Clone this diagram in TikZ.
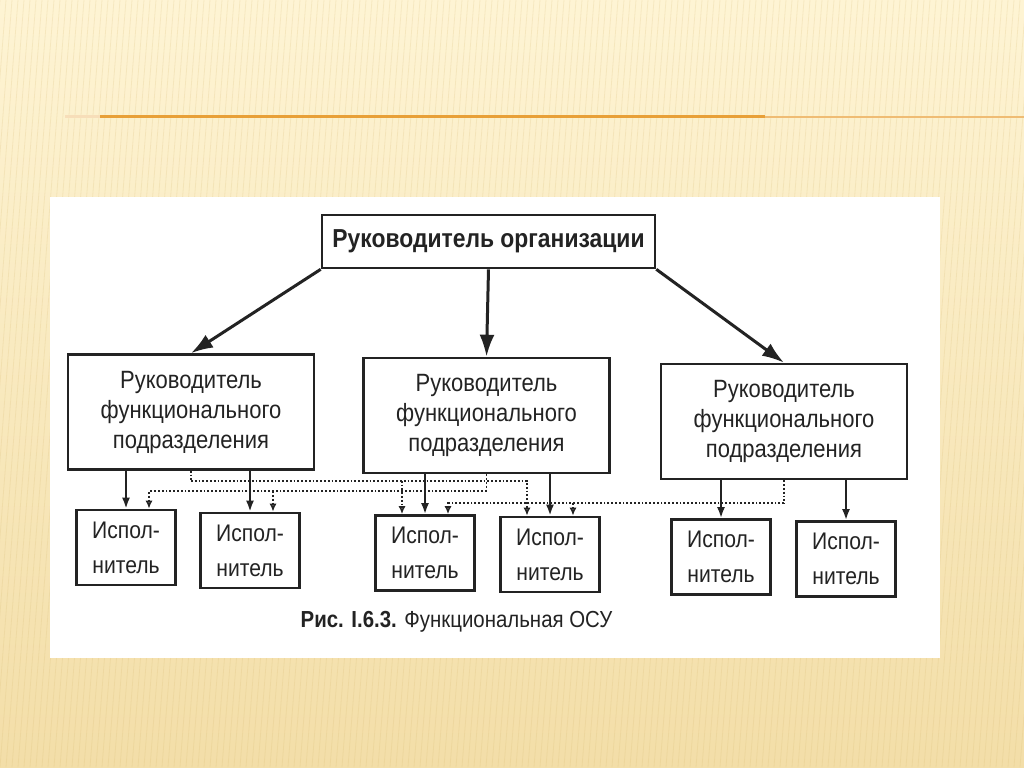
\documentclass[tikz,border=0pt]{standalone}
\usepackage{fontspec}
\setmainfont{Liberation Sans}[FakeStretch=0.88]
\usepackage{xcolor}
\usetikzlibrary{arrows.meta}

\definecolor{slidetop}{RGB}{254,244,212}
\definecolor{slidebot}{RGB}{243,222,168}
\definecolor{stripe}{RGB}{214,184,112}
\definecolor{rule}{RGB}{232,160,56}
\definecolor{ink}{RGB}{35,35,35}

\begin{document}
\begin{tikzpicture}[x=0.5pt, y=-0.5pt,
    box/.style={draw=ink, line width=1.3pt, fill=white, align=center, text=ink,
        inner sep=0pt, font=\fontsize{12.5}{15}\selectfont},
    headbox/.style={box, minimum width=166.5pt, minimum height=26.5pt,
        font=\fontsize{13}{15}\selectfont\bfseries},
    funcbox/.style={box, minimum width=123pt, minimum height=57.5pt},
    execbox/.style={box, minimum width=49.5pt, minimum height=37.5pt,
        font=\fontsize{12}{17.5}\selectfont},
    toparr/.style={draw=ink, line width=1.5pt, -{Latex[length=11pt, width=7.5pt]}},
    solidarr/.style={draw=ink, line width=1.1pt, -{Latex[length=5.5pt, width=4pt]}},
    crossarr/.style={draw=ink, line width=0.9pt, densely dotted,
        -{Latex[open, length=4pt, width=3.5pt]}},
    crossline/.style={draw=ink, line width=0.9pt, densely dotted}]

    % slide background
    \useasboundingbox (0,0) rectangle (1024,767);
    \shade[top color=slidetop, bottom color=slidebot] (0,0) rectangle (1024,767);
    \foreach \x in {-60,-54,...,1030}
        \draw[stripe, opacity=0.2, line width=0.4pt] (\x,767) -- (\x+60,0);
    \draw[rule!35, line width=1.5pt] (65,116) -- (100,116);
    \draw[rule, line width=1.5pt] (100,116) -- (765,116);
    \draw[rule!70, line width=0.8pt] (765,117) -- (1024,117);
    \fill[white] (50,197) rectangle (940,658);

    % managers
    \node[headbox] (top) at (488.5,241.5) {Руководитель организации};
    \node[funcbox] (fl) at (191,412) {Руководитель\\функционального\\подразделения};
    \node[funcbox] (fm) at (486.5,415.5) {Руководитель\\функционального\\подразделения};
    \node[funcbox] (fr) at (784,421.5) {Руководитель\\функционального\\подразделения};

    % executors
    \foreach \n/\x/\y in {e1/126/547.5, e2/250/550.5, e3/425/553,
                          e4/550/554.5, e5/721/557, e6/846/559}{
        \node[execbox] (\n) at (\x,\y) {Испол-\\нитель};
        \coordinate (\n-l) at ([xshift=-11.5pt]\n.north);
        \coordinate (\n-r) at ([xshift=11.5pt]\n.north);
    }

    \draw[toparr] (top.south west) -- (fl.north);
    \draw[toparr] (top.south) -- (fm.north);
    \draw[toparr] (top.south east) -- (fr.north);

    % own executors
    \draw[solidarr] (fl.south -| e1.north) -- (e1.north);
    \draw[solidarr] (fl.south -| e2.north) -- (e2.north);
    \draw[solidarr] (fm.south -| e3.north) -- (e3.north);
    \draw[solidarr] (fm.south -| e4.north) -- (e4.north);
    \draw[solidarr] (fr.south -| e5.north) -- (e5.north);
    \draw[solidarr] (fr.south -| e6.north) -- (e6.north);

    % functional links to other executors
    \draw[crossline] (fl.south) -- ++(0,10) coordinate (bl);
    \draw[crossarr] (bl) -| (e4-l);
    \draw[crossarr] (e3-l |- bl) -- (e3-l);

    \draw[crossline] (fm.south) -- ++(0,17) coordinate (bm);
    \draw[crossarr] (bm) -| (e1-r);
    \draw[crossarr] (e2-r |- bm) -- (e2-r);

    \draw[crossline] (fr.south) -- ++(0,23) coordinate (br);
    \draw[crossarr] (br) -| (e3-r);
    \draw[crossarr] (e4-r |- br) -- (e4-r);

    \node[text=ink, font=\fontsize{11.6}{15}\selectfont] (cap) at (456.5,622)
        {\textbf{Рис. I.6.3.} Функциональная ОСУ};
\end{tikzpicture}
\end{document}
